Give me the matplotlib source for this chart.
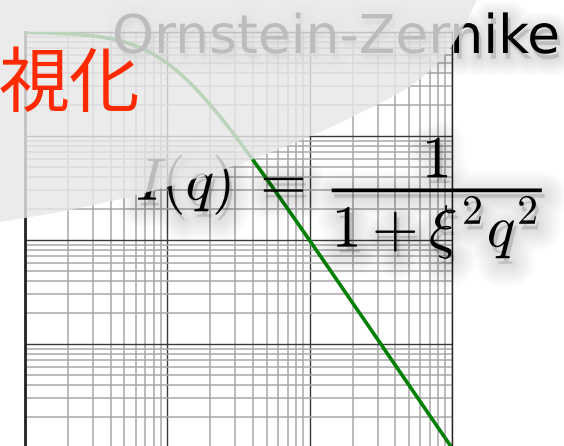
import matplotlib
matplotlib.use("Agg")
import matplotlib.pyplot as plt
import matplotlib.patheffects as pe
from matplotlib.path import Path
from matplotlib.patches import PathPatch
import numpy as np

# Ornstein-Zernike structure factor, I(q) = 1 / (1 + xi^2 q^2)
xi = 10.0
q_range = [1e-2, 1e1]
i_range = [1e-4, 1e0]

title = "Ornstein-Zernike"
badge = "視化"
formula = r"$I(q)\;=\;\dfrac{1}{1+\xi^2 q^2}$"

plt.rcParams["mathtext.fontset"] = "cm"

W, H = 564, 446
fig = plt.figure(figsize=(W / 100, H / 100), dpi=100)
fig.patch.set_facecolor("white")


def px(x, y):
    # pixel position (origin top-left) -> figure fraction
    return x / W, 1 - y / H


left, top = px(25, 32)
right, bottom = px(452, 448)
ax = fig.add_axes([left, bottom, right - left, top - bottom])

q = np.logspace(np.log10(q_range[0]), np.log10(q_range[1]), 500)
intensity = 1.0 / (1.0 + xi**2 * q**2)
ax.loglog(q, intensity, color="green", lw=2.6, zorder=3)

ax.set_xlim(q_range)
ax.set_ylim(i_range)
ax.grid(True, which="major", color="#3a3a3a", lw=1.0)
ax.grid(True, which="minor", color="#a8a8a8", lw=1.1)
ax.tick_params(which="both", length=0, labelleft=False, labelbottom=False)
for side in ax.spines:
    ax.spines[side].set_color("#222222")
    ax.spines[side].set_linewidth(1.0)
ax.spines["left"].set_linewidth(2.0)


def soft_shadow(dx=2, dy=-4, alpha=0.012, widest=32):
    fx = [pe.Stroke(linewidth=w, foreground="black", alpha=alpha, offset=(dx, dy))
          for w in range(widest, 0, -3)]
    return fx + [pe.Normal()]


x, y = px(136, 199)
fig.text(x, y, formula, fontsize=43, ha="left", va="center", color="black",
         zorder=3, path_effects=soft_shadow())

x, y = px(112, 53)
fig.text(x, y, title, fontsize=38.5, ha="left", va="baseline", color="black",
         family="DejaVu Sans", zorder=3,
         path_effects=soft_shadow(2, -4, 0.014, 24))

# translucent grey sheet over the upper left corner
verts = [(-10, 224), (0, 222),
         (120, 204), (240, 173), (360, 113),
         (426, 83), (449, 61), (477, 0),
         (486, -20), (-10, -20), (-10, 224)]
codes = [Path.MOVETO, Path.LINETO,
         Path.CURVE4, Path.CURVE4, Path.CURVE4,
         Path.CURVE4, Path.CURVE4, Path.CURVE4,
         Path.LINETO, Path.LINETO, Path.CLOSEPOLY]
sheet = PathPatch(Path([px(a, b) for a, b in verts], codes),
                  transform=fig.transFigure, facecolor="#e7e7e7",
                  edgecolor="none", alpha=0.82, zorder=4)
fig.add_artist(sheet)

x, y = px(-1, 86)
fig.text(x, y, badge, fontsize=51, ha="left", va="center", color="#ff2a00",
         family=["Noto Sans CJK JP", "DejaVu Sans"], zorder=5)

fig.savefig("out.png", dpi=100)
